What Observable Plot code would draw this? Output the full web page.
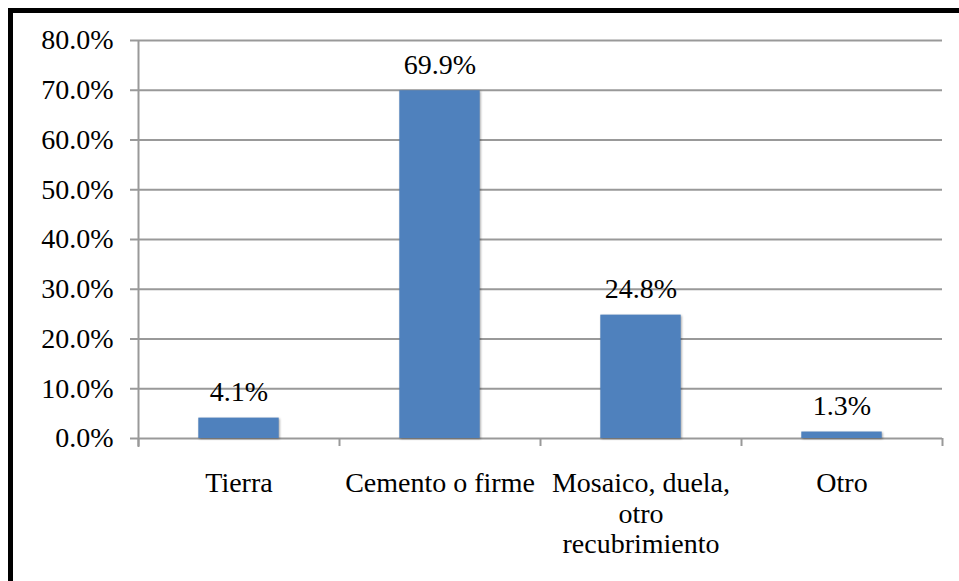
<!DOCTYPE html>
<html><head><meta charset="utf-8">
<script src="https://cdn.jsdelivr.net/npm/d3@7"></script>
<script src="https://cdn.jsdelivr.net/npm/@observablehq/plot@0.6"></script>
<style>
html,body{margin:0;padding:0;background:#fff;overflow:hidden;width:959px;height:581px;}
#frame{position:absolute;left:8px;top:8px;width:1000px;height:700px;border-top:5px solid #000;border-left:5px solid #000;}
#chart{position:absolute;left:0;top:0;}
#chart svg g.bars rect{filter:drop-shadow(1px 1px 1.2px rgba(0,0,0,0.35));}
#chart svg text{font-family:"Liberation Serif", serif;}
</style></head><body>
<div id="frame"></div><div id="chart"></div>
<script>
const categories = ["Tierra", "Cemento o firme", "Mosaico, duela,\notro\nrecubrimiento", "Otro"];
const values = [0.041, 0.699, 0.248, 0.013];
const yTicks = [0, 0.1, 0.2, 0.3, 0.4, 0.5, 0.6, 0.7, 0.8];

const data = categories.map((c, i) => ({i, label: c, value: values[i]}));
const boundaries = d3.range(categories.length + 1);
const pct = d3.format(".1%");
const font = "Liberation Serif";

const plot = Plot.plot({
  width: 959, height: 581,
  marginLeft: 138, marginRight: 17, marginTop: 40, marginBottom: 143,
  style: {fontFamily: font, fontSize: "28px", background: "transparent", color: "#000"},
  x: {domain: [0, categories.length], axis: null},
  y: {domain: [0, 0.8], axis: null},
  marks: [
    Plot.ruleY(yTicks, {stroke: "#999", strokeWidth: 2, insetLeft: -8}),
    Plot.ruleX([0], {stroke: "#999", strokeWidth: 2, insetBottom: -9}),
    Plot.ruleX(boundaries, {y1: 0, y2: 0, stroke: "#999", strokeWidth: 2, insetBottom: -8}),
    Plot.rectY(data, {x1: d => d.i + 0.3, x2: d => d.i + 0.7, y1: 0, y2: "value", fill: "#4F81BD", className: "bars"}),
    Plot.text(data, {x: d => d.i + 0.5, y: "value", text: d => pct(d.value), lineAnchor: "bottom", dy: -17, fill: "#000", fontFamily: font, fontSize: 28}),
    Plot.text(data, {x: d => d.i + 0.5, y: 0, text: "label", lineAnchor: "top", dy: 31, lineHeight: 1.107, fill: "#000", fontFamily: font, fontSize: 28}),
    Plot.text(yTicks, {x: 0, y: d => d, text: d => pct(d), textAnchor: "end", dx: -25, fill: "#000", fontFamily: font, fontSize: 28})
  ]
});
document.getElementById("chart").appendChild(plot);
</script>
</body></html>
